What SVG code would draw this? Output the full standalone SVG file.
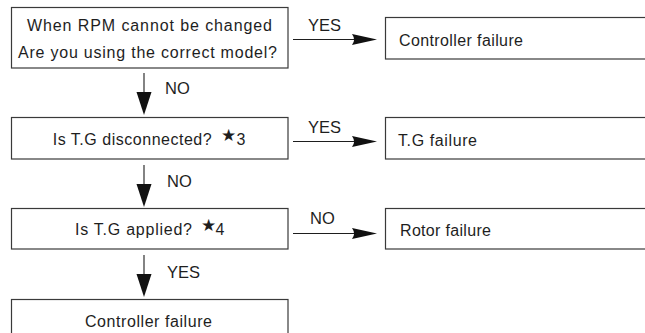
<svg xmlns="http://www.w3.org/2000/svg" width="645" height="333" viewBox="0 0 645 333">
<style>
.box{fill:#fff;stroke:#3a3a3a;stroke-width:1.2}
.t{font-family:"Liberation Sans",Arial,sans-serif;font-size:16px;fill:#1e1e1e}
.lb{font-family:"Liberation Sans",Arial,sans-serif;font-size:16.5px;fill:#1e1e1e}
.star{font-family:"DejaVu Sans",sans-serif;font-size:17px;fill:#1e1e1e}
.ln{stroke:#1e1e1e;stroke-width:1.1;fill:none}
.hd{fill:#111}
</style>
<defs>
<path id="hh" d="M-25,-5.6 L0,0 L-25,5.6 Q-21,0 -25,-5.6 Z"/>
</defs>
<rect width="645" height="333" fill="#fff"/>
<g id="n1">
<rect class="box" x="11.5" y="7.5" width="276.5" height="60.5"/>
<text class="t" x="27" y="31" textLength="245" lengthAdjust="spacing">When RPM cannot be changed</text>
<text class="t" x="18" y="58" textLength="259" lengthAdjust="spacing">Are you using the correct model?</text>
</g>
<g id="n2">
<rect class="box" x="385.5" y="17.5" width="300" height="41.5"/>
<text class="t" x="399" y="46" textLength="124" lengthAdjust="spacing">Controller failure</text>
</g>
<g id="n3">
<rect class="box" x="11.5" y="117.5" width="276.5" height="41.5"/>
<text class="t" x="52.7" y="144.5" textLength="159" lengthAdjust="spacing">Is T.G disconnected?</text>
<text class="star" x="221" y="141">★</text>
<text class="t" x="236.5" y="144.5">3</text>
</g>
<g id="n4">
<rect class="box" x="385.5" y="117.5" width="300" height="41.5"/>
<text class="t" x="398" y="146" textLength="79" lengthAdjust="spacing">T.G failure</text>
</g>
<g id="n5">
<rect class="box" x="11.5" y="208.5" width="276.5" height="40.5"/>
<text class="t" x="75" y="234.5" textLength="117" lengthAdjust="spacing">Is T.G applied?</text>
<text class="star" x="201" y="231">★</text>
<text class="t" x="215.5" y="234.5">4</text>
</g>
<g id="n6">
<rect class="box" x="385.5" y="208.5" width="300" height="40.5"/>
<text class="t" x="400" y="236" textLength="91" lengthAdjust="spacing">Rotor failure</text>
</g>
<g id="n7">
<rect class="box" x="11.5" y="299.5" width="276.5" height="50"/>
<text class="t" x="85" y="326.5" textLength="127" lengthAdjust="spacing">Controller failure</text>
</g>
<g id="connectors">
<line class="ln" x1="293" y1="39.5" x2="360" y2="39.5"/>
<use href="#hh" class="hd" x="377" y="39.5"/>
<text class="lb" x="308" y="31">YES</text>
<line class="ln" x1="293" y1="141.5" x2="360" y2="141.5"/>
<use href="#hh" class="hd" x="377" y="141.5"/>
<text class="lb" x="308" y="133">YES</text>
<line class="ln" x1="293" y1="233.5" x2="360" y2="233.5"/>
<use href="#hh" class="hd" x="377" y="233.5"/>
<text class="lb" x="310" y="224">NO</text>
<line class="ln" x1="144" y1="73" x2="144" y2="100"/>
<path class="hd" d="M136.5,92 L151.5,92 L144,115 Z"/>
<text class="lb" x="165" y="94">NO</text>
<line class="ln" x1="144" y1="165" x2="144" y2="192"/>
<path class="hd" d="M136.5,184 L151.5,184 L144,207 Z"/>
<text class="lb" x="167" y="187">NO</text>
<line class="ln" x1="144" y1="255" x2="144" y2="282"/>
<path class="hd" d="M136.5,274 L151.5,274 L144,297 Z"/>
<text class="lb" x="167" y="278">YES</text>
</g>
</svg>
